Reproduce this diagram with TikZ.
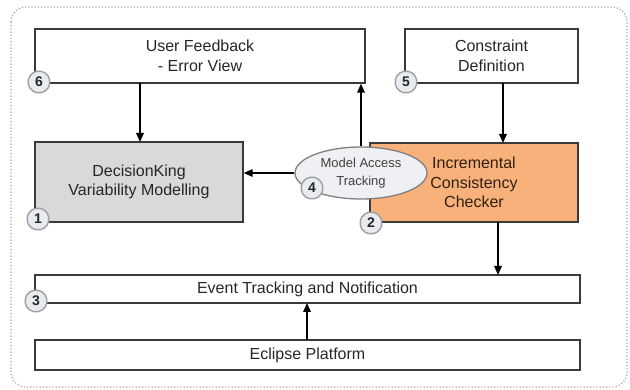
\documentclass[tikz,border=0pt]{standalone}
\usepackage{fontspec}
\setmainfont{Liberation Sans}
\usetikzlibrary{shapes.geometric,arrows.meta}
\definecolor{orangefill}{HTML}{F9B17B}
\definecolor{grayfill}{HTML}{D9D9D9}
\definecolor{badgefill}{HTML}{E8ECF1}
\definecolor{ellfill}{HTML}{EEF0F3}
\definecolor{boxline}{HTML}{3A3A3A}
\begin{document}
\begin{tikzpicture}[x=1pt,y=-1pt,
  box/.style={draw=boxline,line width=1.3pt,inner sep=0pt,align=center,font=\fontsize{16}{19.5}\selectfont,text=black!85},
  badge/.style={draw=gray!75,fill=badgefill,regular polygon,regular polygon sides=8,minimum size=23pt,inner sep=0pt,line width=1.4pt,rounded corners=2pt,font=\fontsize{14}{14}\selectfont\bfseries,text=black!85},
  arr/.style={-{Triangle[length=9pt,width=7.5pt]},line width=1.6pt,black}]
\useasboundingbox (0,0) rectangle (630,390);
\draw[gray!70,line width=1.2pt,dotted,rounded corners=15pt] (11,7) rectangle (627,387);
% boxes
\node[box,minimum width=330pt,minimum height=54pt] (uf) at (200,56) {User Feedback\\- Error View};
\node[box,minimum width=173pt,minimum height=54pt] (cd) at (491.5,56) {Constraint\\Definition};
\node[box,fill=grayfill,minimum width=208pt,minimum height=80pt] (dk) at (139,182) {DecisionKing\\Variability Modelling};
\node[box,fill=orangefill,minimum width=208pt,minimum height=79pt,text=black!75!brown] (icc) at (474,182.5) {Incremental\\Consistency\\Checker};
\node[box,minimum width=545pt,minimum height=28pt] (ev) at (307.5,289) {Event Tracking and Notification};
\node[box,minimum width=545pt,minimum height=30pt] (ec) at (307.5,355) {Eclipse Platform};
\node[ellipse,draw=gray,fill=ellfill,line width=1.3pt,minimum width=132pt,minimum height=52pt,inner sep=0pt,align=center,font=\fontsize{13}{18}\selectfont,text=black!75] (mat) at (361,173) {Model Access\\Tracking};
% arrows
\draw[arr] (140,83) -- (140,142);
\draw[arr] (mat.north) -- (mat.north |- uf.south);
\draw[arr] (mat.west) -- (mat.west -| dk.east);
\draw[arr] (503,83) -- (503,143);
\draw[arr] (498,222) -- (498,275);
\draw[arr] (307,340) -- (307,303);
% badges
\node[badge] (b6) at (39,82) {6};
\node[badge] (b5) at (406,82) {5};
\node[badge] (b1) at (38,219) {1};
\node[badge] (b2) at (371,223) {2};
\node[badge] (b3) at (36,301) {3};
\node[badge] (b4) at (312,188) {4};
\end{tikzpicture}
\end{document}
